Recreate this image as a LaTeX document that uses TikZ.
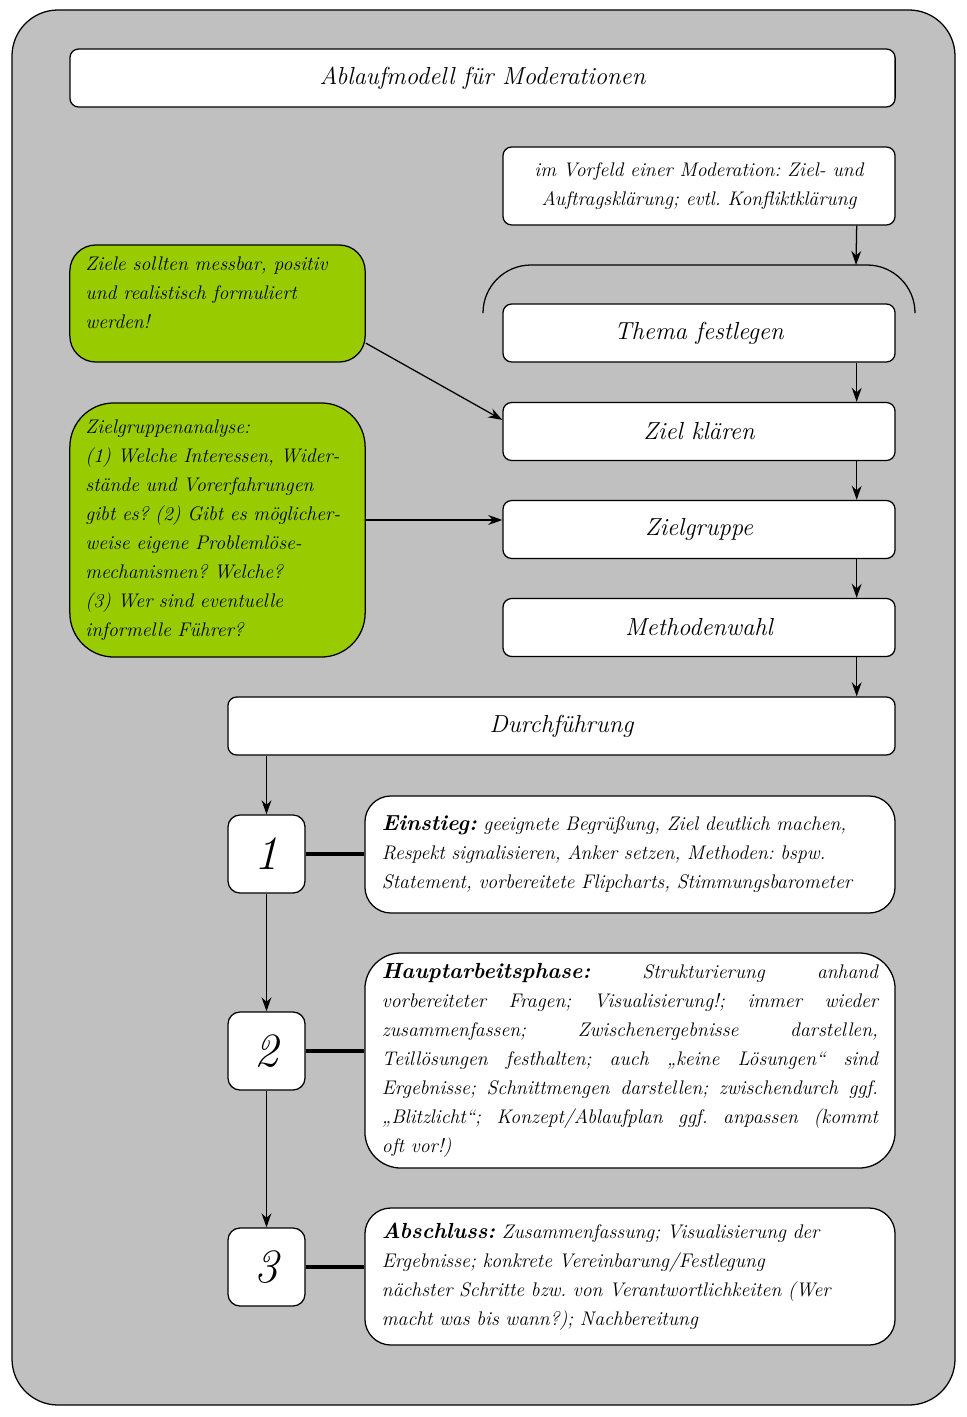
\documentclass[tikz,border=0pt]{standalone}
\usepackage{fontspec}
\usetikzlibrary{arrows.meta,positioning,calc}
\definecolor{bggray}{RGB}{192,192,192}
\definecolor{hintgreen}{RGB}{153,204,0}
\newcommand{\txtfont}{\fontsize{14}{20.6}\selectfont\itshape\frenchspacing}
\newcommand{\bigfont}{\fontsize{17.5}{21}\selectfont\itshape}
\newcommand{\numfont}{\fontsize{34}{38}\selectfont\itshape}
\newcommand{\kopf}[1]{{\fontsize{15.5}{20.6}\selectfont\bfseries #1}}
\tikzset{
	>={Stealth[length=10pt,width=7pt]},
	every picture/.style={line width=0.9pt},
}

\begin{document}
\begin{tikzpicture}[x=0.025cm, y=-0.025cm,
        box/.style={draw, fill=white, rounded corners=0.22cm, minimum width=9.8cm, minimum height=1.45cm, font=\bigfont},
        numbox/.style={draw, fill=white, rounded corners=0.3cm, minimum width=1.925cm, minimum height=1.95cm, font=\numfont},
        phase/.style={draw, fill=white, text width=12.4cm, inner xsep=0.425cm, font=\txtfont},
        hint/.style={draw, fill=hintgreen, text width=6.6cm, inner xsep=0.39cm, align=left, font=\txtfont}]
        \useasboundingbox (0,0) rectangle (966,1417);
        \draw[fill=bggray, rounded corners=1.15cm] (12,10) rectangle (955,1405);

        % Kopf und Vorbereitung
        \node[box, minimum width=20.625cm] (titel) at (482.5,78) {Ablaufmodell für Moderationen};
        \node[box, minimum height=1.95cm, font=\txtfont, align=center] (vorfeld) at (699,186) {im Vorfeld einer Moderation: Ziel- und\\Auftragsklärung; evtl. Konfliktklärung};

        \draw[rounded corners=1.2cm] (483,313) -- (483,265) -- (915,265) -- (915,313);
        \coordinate (klammer) at (856,265);

        \node[box] (thema) at (699,333) {Thema festlegen};
        \node[box] (ziel) at (699,431.5) {Ziel klären};
        \node[box] (gruppe) at (699,529.5) {Zielgruppe};
        \node[box] (methode) at (699,627.5) {Methodenwahl};
        \node[box, minimum width=16.675cm] (durch) at (561.5,726) {Durchführung};

        \draw[->] ([xshift=-0.975cm]vorfeld.south east) -- (klammer);
        \foreach \a/\b in {thema/ziel, ziel/gruppe, gruppe/methode, methode/durch}
            \draw[->] ([xshift=-0.975cm]\a.south east) -- ([xshift=-0.975cm]\a.south east |- \b.north);

        % Hinweise
        \node[draw, fill=hintgreen, rounded corners=0.65cm, font=\txtfont, inner xsep=0.39cm, inner ysep=0.3cm] (ziele) at (217.5,303.5)
            {\parbox[c][2.325cm][t]{6.6cm}{Ziele sollten messbar, positiv\\und realistisch formuliert\\werden!}};
        \node[hint, rounded corners=1.1cm, minimum height=6.35cm] (analyse) at (217.5,530)
            {Zielgruppenanalyse:\\(1) Welche Interessen, Wider-\\stände und Vorerfahrungen\\gibt es? (2) Gibt es möglicher-\\weise eigene Problemlöse-\\mechanismen? Welche?\\(3) Wer sind eventuelle\\informelle Führer?};

        \draw[->] ([yshift=-0.99cm]ziele.east) -- ([yshift=0.29cm]ziel.west);
        \draw[->] ([yshift=0.25cm]analyse.east) -- ([yshift=0.25cm]analyse.east -| gruppe.west);

        % Phasen der Durchfuehrung
        \node[numbox] (n1) at (266.5,854) {1};
        \node[numbox] (n2) at (266.5,1051) {2};
        \node[numbox] (n3) at (266.5,1267) {3};

        \node[phase, align=left, rounded corners=0.65cm, minimum height=2.925cm] (einstieg) at (630,854.5)
            {\kopf{Einstieg:} geeignete Begrüßung, Ziel deutlich machen,\\Respekt signalisieren, Anker setzen, Methoden: bspw.\\Statement, vorbereitete Flipcharts, Stimmungsbarometer};
        \node[phase, align=justify, rounded corners=0.9cm, minimum height=5.375cm] (haupt) at (630,1060.5)
            {\kopf{Hauptarbeitsphase:} Strukturierung anhand\linebreak vorbereiteter Fragen; Visualisierung!; immer wieder\linebreak zusammenfassen; Zwischenergebnisse darstellen,\linebreak Teillösungen festhalten; auch „keine Lösungen“ sind\linebreak Ergebnisse; Schnittmengen darstellen; zwischendurch ggf.\linebreak „Blitzlicht“; Konzept/Ablaufplan ggf. anpassen (kommt\linebreak oft vor!)};
        \node[phase, align=left, rounded corners=0.65cm, minimum height=3.425cm] (abschluss) at (630,1276.5)
            {\kopf{Abschluss:} Zusammenfassung; Visualisierung der\\Ergebnisse; konkrete Vereinbarung/Festlegung\\nächster Schritte bzw. von Verantwortlichkeiten (Wer\\macht was bis wann?); Nachbereitung};

        \draw[->] (durch.south -| n1.north) -- (n1.north);
        \draw[->] (n1) -- (n2);
        \draw[->] (n2) -- (n3);
        \foreach \n/\p in {n1/einstieg, n2/haupt, n3/abschluss}
            \draw[line width=3pt] (\n.east) -- (\n.east -| \p.west);
\end{tikzpicture}
\end{document}
